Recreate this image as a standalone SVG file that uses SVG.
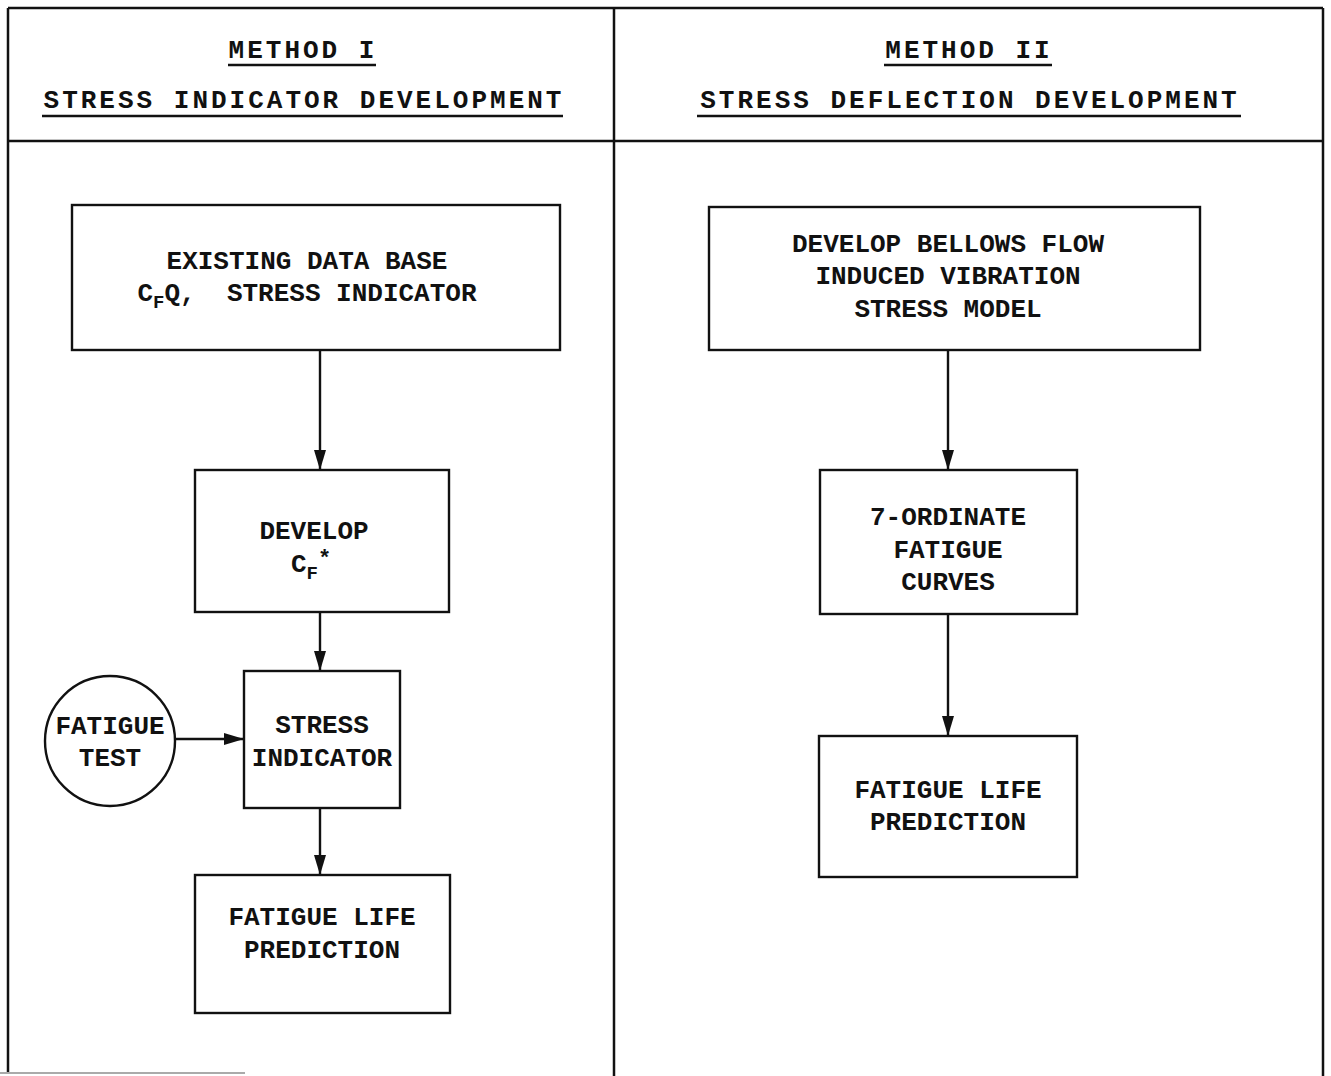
<svg xmlns="http://www.w3.org/2000/svg" width="1331" height="1076" viewBox="0 0 1331 1076">
<defs>
<style>
.frame{fill:none;stroke:#111;stroke-width:2.5}
.box{fill:#fff;stroke:#111;stroke-width:2.4}
.t{font-family:"Liberation Mono","Courier New",monospace;font-weight:bold;font-size:26px;fill:#111;text-anchor:middle}
.h{letter-spacing:3px}
.ul{stroke:#111;stroke-width:2.5}
.conn{fill:none;stroke:#111;stroke-width:2.4}
</style>
<marker id="ah" viewBox="0 0 20 12" refX="20" refY="6" markerWidth="20" markerHeight="12" markerUnits="userSpaceOnUse" orient="auto">
<path d="M0,0 L20,6 L0,12 Z" fill="#111"/>
</marker>
</defs>
<rect width="1331" height="1076" fill="#fff"/>
<g id="frame">
<line class="frame" x1="8" y1="8" x2="1323" y2="8"/>
<line class="frame" x1="8" y1="8" x2="8" y2="1072"/>
<line class="frame" x1="1323" y1="8" x2="1323" y2="1076"/>
<line class="frame" x1="614" y1="8" x2="614" y2="1076"/>
<line class="frame" x1="8" y1="141" x2="1323" y2="141"/>
<line x1="0" y1="1073" x2="245" y2="1073" stroke="#aaa" stroke-width="2"/>
</g>
<g id="header-left">
<text class="t h" x="303" y="58">METHOD I</text>
<line class="ul" x1="228" y1="65" x2="376" y2="65"/>
<text class="t h" x="304" y="108">STRESS INDICATOR DEVELOPMENT</text>
<line class="ul" x1="42" y1="116" x2="563" y2="116"/>
</g>
<g id="header-right">
<text class="t h" x="969" y="58">METHOD II</text>
<line class="ul" x1="884" y1="65" x2="1052" y2="65"/>
<text class="t h" x="970" y="108">STRESS DEFLECTION DEVELOPMENT</text>
<line class="ul" x1="697" y1="116" x2="1241" y2="116"/>
</g>
<g id="connectors">
<line class="conn" x1="320" y1="350" x2="320" y2="470" marker-end="url(#ah)"/>
<line class="conn" x1="320" y1="612" x2="320" y2="671" marker-end="url(#ah)"/>
<line class="conn" x1="175" y1="739" x2="244" y2="739" marker-end="url(#ah)"/>
<line class="conn" x1="320" y1="808" x2="320" y2="875" marker-end="url(#ah)"/>
<line class="conn" x1="948" y1="350" x2="948" y2="470" marker-end="url(#ah)"/>
<line class="conn" x1="948" y1="614" x2="948" y2="736" marker-end="url(#ah)"/>
</g>
<g id="existing-data-base">
<rect class="box" x="72" y="205" width="488" height="145"/>
<text class="t" x="307" y="269">EXISTING DATA BASE</text>
<text class="t" x="307" y="301" xml:space="preserve">C<tspan font-size="19" dy="7">F</tspan><tspan dy="-7">Q,  STRESS INDICATOR</tspan></text>
</g>
<g id="develop-cf">
<rect class="box" x="195" y="470" width="254" height="142"/>
<text class="t" x="314" y="539">DEVELOP</text>
<text class="t" x="311" y="572">C<tspan font-size="19" dy="7">F</tspan><tspan font-size="22" dy="-14">*</tspan></text>
</g>
<g id="stress-indicator">
<rect class="box" x="244" y="671" width="156" height="137"/>
<text class="t" x="322" y="733">STRESS</text>
<text class="t" x="322" y="766">INDICATOR</text>
</g>
<g id="fatigue-test">
<circle class="box" cx="110" cy="741" r="65"/>
<text class="t" x="110" y="734">FATIGUE</text>
<text class="t" x="110" y="766">TEST</text>
</g>
<g id="fatigue-life-left">
<rect class="box" x="195" y="875" width="255" height="138"/>
<text class="t" x="322" y="925">FATIGUE LIFE</text>
<text class="t" x="322" y="958">PREDICTION</text>
</g>
<g id="develop-bellows">
<rect class="box" x="709" y="207" width="491" height="143"/>
<text class="t" x="948" y="252">DEVELOP BELLOWS FLOW</text>
<text class="t" x="948" y="284">INDUCED VIBRATION</text>
<text class="t" x="948" y="317">STRESS MODEL</text>
</g>
<g id="seven-ordinate">
<rect class="box" x="820" y="470" width="257" height="144"/>
<text class="t" x="948" y="525">7-ORDINATE</text>
<text class="t" x="948" y="558">FATIGUE</text>
<text class="t" x="948" y="590">CURVES</text>
</g>
<g id="fatigue-life-right">
<rect class="box" x="819" y="736" width="258" height="141"/>
<text class="t" x="948" y="798">FATIGUE LIFE</text>
<text class="t" x="948" y="830">PREDICTION</text>
</g>
</svg>
